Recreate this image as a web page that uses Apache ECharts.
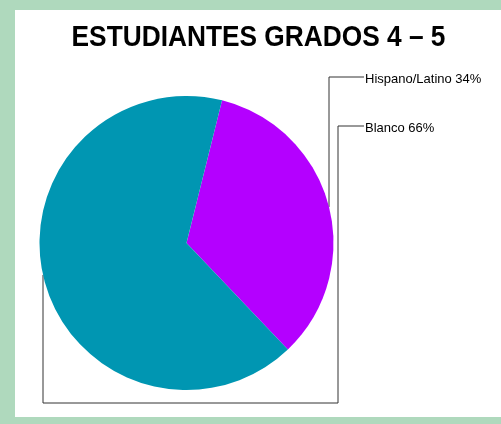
<!DOCTYPE html>
<html>
<head>
<meta charset="utf-8">
<script src="https://cdn.jsdelivr.net/npm/echarts@6/dist/echarts.min.js"></script>
<style>
  html, body { margin: 0; padding: 0; background: #afd9bd; }
  #chart { width: 501px; height: 424px; }
</style>
</head>
<body>
<div id="chart"></div>
<script>
// datos
const categories = ['Hispano/Latino', 'Blanco'];
const values = [34, 66];
const colors = ['#b400ff', '#0096b2'];
const titleText = 'ESTUDIANTES GRADOS 4 – 5';

const cx = 186.5, cy = 243, r = 147;
const font = "'Liberation Sans', Arial, sans-serif";

// donde la linea guia toca el borde del circulo
function edgeY(x, up) {
  const d = Math.sqrt(Math.max(0, r * r - (x - cx) * (x - cx)));
  return up ? cy - d : cy + d;
}

const chart = echarts.init(document.getElementById('chart'));

chart.setOption({
  backgroundColor: '#afd9bd',
  animation: false,
  graphic: [{
    type: 'rect',
    shape: { x: 15, y: 10, width: 486, height: 407 },
    style: { fill: '#ffffff' },
    z: -10
  }, {
    // titulo, comprimido a lo ancho como una fuente estrecha
    type: 'text',
    x: 258.5,
    y: 23,
    scaleX: 0.876,
    style: {
      text: titleText,
      fontFamily: font,
      fontSize: 30,
      fontWeight: 'bold',
      fill: '#000',
      align: 'center',
      verticalAlign: 'top'
    }
  }],
  series: [{
    type: 'pie',
    center: [cx, cy],
    radius: r,
    startAngle: 76,
    clockwise: true,
    avoidLabelOverlap: false,
    itemStyle: { borderWidth: 0 },
    label: {
      show: true,
      position: 'outside',
      formatter: p => p.name + ' ' + p.value + '%',
      fontFamily: font,
      fontSize: 13,
      color: '#000'
    },
    labelLine: { show: true, smooth: false, lineStyle: { color: '#333', width: 1 } },
    labelLayout: function (p) {
      if (p.dataIndex === 0) {
        return {
          x: 365, y: 79, align: 'left', verticalAlign: 'middle',
          labelLinePoints: [[329, edgeY(329, true)], [329, 77], [364, 77]]
        };
      }
      return {
        x: 365, y: 128, align: 'left', verticalAlign: 'middle',
        labelLinePoints: [[43, edgeY(43, false)], [43, 403], [338, 403], [338, 126], [364, 126]]
      };
    },
    data: categories.map((c, i) => ({ name: c, value: values[i], itemStyle: { color: colors[i] } }))
  }]
});
</script>
</body>
</html>
